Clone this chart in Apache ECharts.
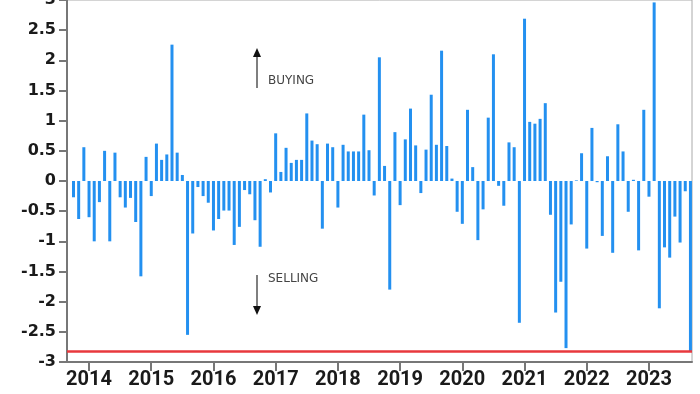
<!DOCTYPE html>
<html><head><meta charset="utf-8">
<script src="https://cdn.jsdelivr.net/npm/echarts@6/dist/echarts.min.js"></script>
<style>html,body{margin:0;padding:0;background:#fff}#c{width:700px;height:394px}</style>
</head><body><div id="c"></div>
<script>
// Tick labels (years) on the x axis
const yearTicks = ['2014','2015','2016','2017','2018','2019','2020','2021','2022','2023'];

// Monthly flows by year (first month index given separately for partial years)
const flow2013 = [-0.27, -0.63, 0.56];                 // Oct–Dec 2013
const flow2014 = [-0.60, -1.00, -0.35, 0.50, -1.00, 0.47, -0.27, -0.44, -0.28, -0.68, -1.58, 0.40];
const flow2015 = [-0.25, 0.62, 0.35, 0.44, 2.26, 0.47, 0.10, -2.55, -0.87, -0.10, -0.25, -0.36];
const flow2016 = [-0.82, -0.63, -0.49, -0.49, -1.06, -0.76, -0.15, -0.22, -0.65, -1.09, 0.03, -0.19];
const flow2017 = [0.79, 0.15, 0.55, 0.30, 0.35, 0.35, 1.12, 0.67, 0.61, -0.79, 0.62, 0.56];
const flow2018 = [-0.44, 0.60, 0.49, 0.49, 0.49, 1.10, 0.51, -0.24, 2.05, 0.25, -1.80, 0.81];
const flow2019 = [-0.40, 0.69, 1.20, 0.59, -0.20, 0.52, 1.43, 0.60, 2.16, 0.58, 0.04, -0.51];
const flow2020 = [-0.71, 1.18, 0.23, -0.98, -0.47, 1.05, 2.10, -0.08, -0.41, 0.64, 0.56, -2.35];
const flow2021 = [2.69, 0.98, 0.95, 1.03, 1.29, -0.56, -2.18, -1.67, -2.77, -0.72, 0.01, 0.46];
const flow2022 = [-1.12, 0.88, -0.02, -0.91, 0.41, -1.19, 0.94, 0.49, -0.51, 0.02, -1.15, 1.18];
const flow2023 = [-0.26, 2.96, -2.11, -1.10, -1.27, -0.59, -1.02, -0.17, -2.83]; // Jan–Sep 2023

// Red reference level
const redLevel = -2.83;

const yearBlocks = [
  [2013, 9, flow2013], [2014, 0, flow2014], [2015, 0, flow2015], [2016, 0, flow2016],
  [2017, 0, flow2017], [2018, 0, flow2018], [2019, 0, flow2019], [2020, 0, flow2020],
  [2021, 0, flow2021], [2022, 0, flow2022], [2023, 0, flow2023]
];
const barData = [];
yearBlocks.forEach(([yr, m0, vals]) => vals.forEach((v, i) => barData.push([(yr - 2014) * 12 + m0 + i, v])));
const tickPos = yearTicks.map(y => (Number(y) - 2014) * 12);

const chart = echarts.init(document.getElementById('c'), null, {renderer: 'canvas'});
chart.setOption({
  animation: false,
  backgroundColor: '#fff',
  grid: {left: 67, right: 8, top: 0, bottom: 32, show: true, borderColor: '#aaa', borderWidth: 1,
         containLabel: false, outerBoundsMode: 'none'},
  xAxis: {
    type: 'value', min: -4.25, max: 116.3,
    splitLine: {show: false},
    axisLine: {show: true, onZero: false, lineStyle: {color: '#777', width: 2}},
    axisTick: {show: true, length: 9, customValues: tickPos, lineStyle: {color: '#777', width: 2}},
    axisLabel: {
      customValues: tickPos,
      formatter: v => yearTicks[tickPos.indexOf(Math.round(v))],
      margin: 8, fontFamily: 'Roboto', fontWeight: 'bold', fontSize: 20, color: '#1a1a1a'
    }
  },
  yAxis: {
    type: 'value', min: -3, max: 3, interval: 0.5,
    splitLine: {show: false},
    axisLine: {show: true, onZero: false, lineStyle: {color: '#777', width: 2}},
    axisTick: {show: true, length: 8, lineStyle: {color: '#777', width: 2}},
    axisLabel: {margin: 11, fontFamily: 'DejaVu Sans', fontWeight: 'bold', fontSize: 16, color: '#1a1a1a'}
  },
  series: [{
    type: 'bar', data: barData, barWidth: 3,
    itemStyle: {color: '#2390f0'},
    markLine: {
      silent: true, symbol: 'none', label: {show: false},
      lineStyle: {color: '#e8383d', width: 2.5, type: 'solid'},
      data: [{yAxis: redLevel}]
    }
  }],
  graphic: [
    {type: 'line', shape: {x1: 257, y1: 88, x2: 257, y2: 55}, style: {stroke: '#555', lineWidth: 1.5}},
    {type: 'polygon', shape: {points: [[253, 57], [261, 57], [257, 48]]}, style: {fill: '#111'}},
    {type: 'text', x: 268, y: 80.5, style: {text: 'BUYING', font: '12px "DejaVu Sans"', fill: '#444', verticalAlign: 'middle'}},
    {type: 'line', shape: {x1: 257, y1: 275, x2: 257, y2: 308}, style: {stroke: '#555', lineWidth: 1.5}},
    {type: 'polygon', shape: {points: [[253, 306], [261, 306], [257, 315]]}, style: {fill: '#111'}},
    {type: 'text', x: 268, y: 279, style: {text: 'SELLING', font: '12px "DejaVu Sans"', fill: '#444', verticalAlign: 'middle'}}
  ]
});
</script></body></html>
